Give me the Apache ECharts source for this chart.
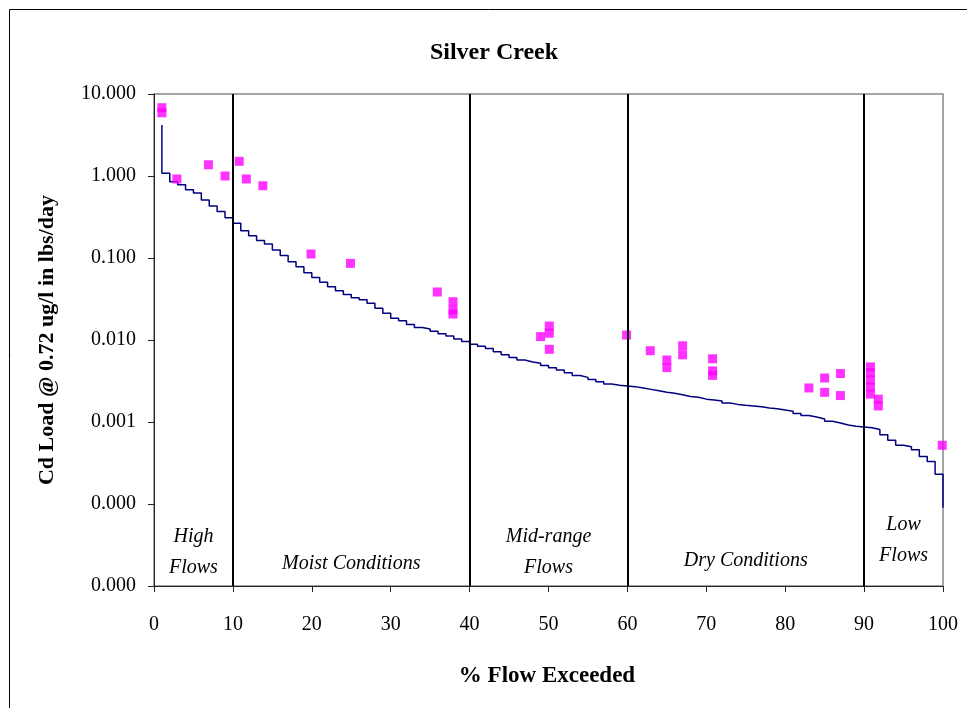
<!DOCTYPE html>
<html><head><meta charset="utf-8">
<script src="https://cdn.jsdelivr.net/npm/echarts@6/dist/echarts.min.js"></script>
<style>html,body{margin:0;padding:0;background:#fff}#c{width:967px;height:708px}</style>
</head><body><div id="c"></div>
<script>
// Duration curve (% flow exceeded, Cd load lbs/day)
const curveX = [1,1,2,3,4,5,6,7,8,9,10,11,12,13,14,15,16,17,18,19,20,21,22,23,24,25,26,27,28,29,30,31,32,33,34,35,36,37,38,39,40,41,42,43,44,45,46,47,48,49,50,51,52,53,54,55,56,57,58,59,60,61,62,63,64,65,66,67,68,69,70,71,72,73,74,75,76,77,78,79,80,81,82,83,84,85,86,87,88,89,90,91,92,93,94,95,96,97,98,99,100,100];
const curveY = [4.2,1.08,0.85,0.78,0.68,0.62,0.51,0.43,0.37,0.31,0.265,0.215,0.187,0.163,0.148,0.125,0.107,0.09,0.078,0.066,0.058,0.0506,0.0447,0.0398,0.036,0.0328,0.0309,0.028,0.0244,0.0212,0.0184,0.0172,0.0155,0.0142,0.0136,0.0128,0.0119,0.0112,0.0103,0.0096,0.0089,0.0084,0.0079,0.0072,0.0066,0.0061,0.0057,0.0054,0.0052,0.0049,0.0046,0.0043,0.004,0.0037,0.0035,0.0033,0.0031,0.0029,0.0028,0.00275,0.0027,0.0026,0.0025,0.0024,0.0023,0.00224,0.00215,0.00205,0.002,0.0019,0.00186,0.0018,0.0017,0.00164,0.0016,0.00157,0.00153,0.00148,0.00145,0.0014,0.00135,0.00127,0.0012,0.00115,0.00109,0.00102,0.00097,0.00092,0.00089,0.00087,0.00085,0.00081,0.0007,0.0006,0.00052,0.0005,0.00046,0.00038,0.00033,0.00023,0.00021,0.00009];
// Observed loads
const obsX = [1,1,2.9,6.9,9,10.8,11.7,13.8,19.9,24.9,35.9,37.9,37.9,37.9,49,50.1,50.1,50.1,59.9,62.9,65,65,67,67,70.8,70.8,70.8,83,85,85,87,87,90.8,90.8,90.8,90.8,90.8,91.8,91.8,99.9];
const obsY = [6.8,5.9,0.92,1.37,1.0,1.51,0.92,0.76,0.112,0.086,0.0385,0.0293,0.0232,0.0207,0.011,0.0148,0.0121,0.0077,0.0115,0.0074,0.0057,0.0046,0.0085,0.0066,0.0059,0.0042,0.0037,0.0026,0.00344,0.0023,0.0039,0.0021,0.0047,0.0040,0.00325,0.00267,0.00219,0.0019,0.00157,0.00052];
const zoneBounds = [10,40,60,90];
const zoneLabels = [["High","Flows"],["Moist Conditions"],["Mid-range","Flows"],["Dry Conditions"],["Low","Flows"]];
const zoneCenters = [5,25,50,75,95];
const zoneLabelY = [[537,568],[564],[537,568],[561],[525,556]];

const SERIF = '"Liberation Serif","DejaVu Serif",serif';
const chart = echarts.init(document.getElementById('c'));
const G = {left:154, right:24, top:94, bottom:122};
const pxX = v => G.left + (967 - G.left - G.right) * v / 100;

const graphics = [
  {type:'rect', shape:{x:9.5,y:9.5,width:980,height:720}, style:{fill:null, stroke:'#000', lineWidth:1}, silent:true, z:-10},
  {type:'text', x:494, y:53, style:{text:'Silver Creek', font:'bold 24px '+SERIF, fill:'#000', align:'center', verticalAlign:'middle'}},
  {type:'text', x:47, y:340, rotation:Math.PI/2, style:{text:'Cd Load @ 0.72 ug/l in lbs/day', font:'bold 22px '+SERIF, fill:'#000', align:'center', verticalAlign:'middle'}},
  {type:'text', x:547, y:676, style:{text:'% Flow Exceeded', font:'bold 23px '+SERIF, fill:'#000', align:'center', verticalAlign:'middle'}}
];
zoneLabels.forEach((lines,i)=>{
  lines.forEach((t,j)=>{
    graphics.push({type:'text', x:pxX(zoneCenters[i]), y:zoneLabelY[i][j], style:{text:t, font:'italic 20px '+SERIF, fill:'#000', align:'center', verticalAlign:'middle'}});
  });
});

chart.setOption({
  animation:false,
  backgroundColor:'#fff',
  grid:{left:G.left, right:G.right, top:G.top, bottom:G.bottom, show:true, borderColor:'#888', borderWidth:1.5, backgroundColor:'#fff'},
  xAxis:{type:'value', min:0, max:100, interval:10,
    axisLine:{show:true, lineStyle:{color:'#222', width:1}},
    axisTick:{show:true, inside:false, length:6, lineStyle:{color:'#222'}},
    axisLabel:{margin:29, fontFamily:SERIF, fontSize:20, color:'#000'},
    splitLine:{show:false}},
  yAxis:{type:'log', logBase:10, min:0.00001, max:10,
    axisLine:{show:true, lineStyle:{color:'#222', width:1}},
    axisTick:{show:true, inside:false, length:6, lineStyle:{color:'#222'}},
    axisLabel:{margin:18, fontFamily:SERIF, fontSize:20, color:'#000', formatter:v=>Number(v).toFixed(3)},
    splitLine:{show:false}},
  graphic:graphics,
  series:[
    {type:'line', data:curveX.map((x,i)=>[x,curveY[i]]), step:'end', showSymbol:false, symbol:'none',
     lineStyle:{color:'#000080', width:1.5}, z:3,
     markLine:{silent:true, symbol:['none','none'], label:{show:false}, lineStyle:{color:'#000', width:2, type:'solid'},
       data:zoneBounds.map(b=>({xAxis:b}))}},
    {type:'scatter', data:obsX.map((x,i)=>[x,obsY[i]]), symbol:'rect', symbolSize:9,
     itemStyle:{color:'#FF00FF'}, z:4}
  ]
});
</script></body></html>
